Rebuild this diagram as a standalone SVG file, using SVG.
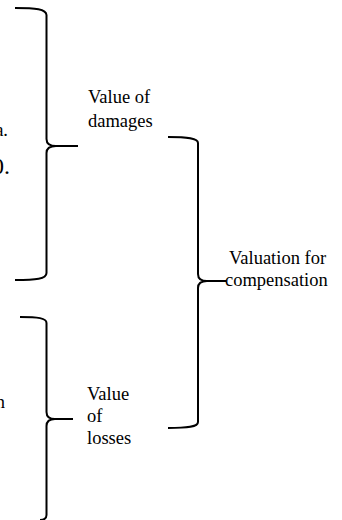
<svg xmlns="http://www.w3.org/2000/svg" width="342" height="520" viewBox="0 0 342 520">
<style>
.br{fill:none;stroke:#000;stroke-width:2;stroke-linecap:butt;stroke-linejoin:round}
.t{font-family:"Liberation Serif","Times New Roman",serif;font-size:18.5px;fill:#000}
</style>
<rect width="342" height="520" fill="#fff"/>
<g id="fragments">
<text class="t" x="8" y="136" text-anchor="end">a.</text>
<text class="t" x="10" y="174" text-anchor="end" style="font-size:24px">0.</text>
<text class="t" x="5" y="408" text-anchor="end">n</text>
</g>
<g id="connectors">
<path class="br" d="M15,8 C36,8 46,9 46.5,15 L46.5,139 C46.5,144 50,146 56,146 L78,146 M56,146 C50,146 46.5,148 46.5,153 L46.5,273 C46.5,279 36,280 15,280"/>
<path class="br" d="M20,317 C38,317 46.5,318 46.5,323 L46.5,412 C46.5,417 50,419 55,419 L73,419 M55,419 C50,419 46.5,421 46.5,426 L46.5,515 C46.5,519 44,520 40,520"/>
<path class="br" d="M168,137 C188,137 198,138 198,143 L198,274 C198,279 202,281 207,281 L226,281 M207,281 C202,281 198,283 198,288 L198,422 C198,427 188,428 168,428"/>
</g>
<g id="damages">
<text class="t" x="88" y="103">Value of</text>
<text class="t" x="88" y="127">damages</text>
</g>
<g id="losses">
<text class="t" x="87" y="400">Value</text>
<text class="t" x="87" y="422">of</text>
<text class="t" x="87" y="444">losses</text>
</g>
<g id="compensation">
<text class="t" x="229" y="264">Valuation for</text>
<text class="t" x="225" y="286">compensation</text>
</g>
</svg>
